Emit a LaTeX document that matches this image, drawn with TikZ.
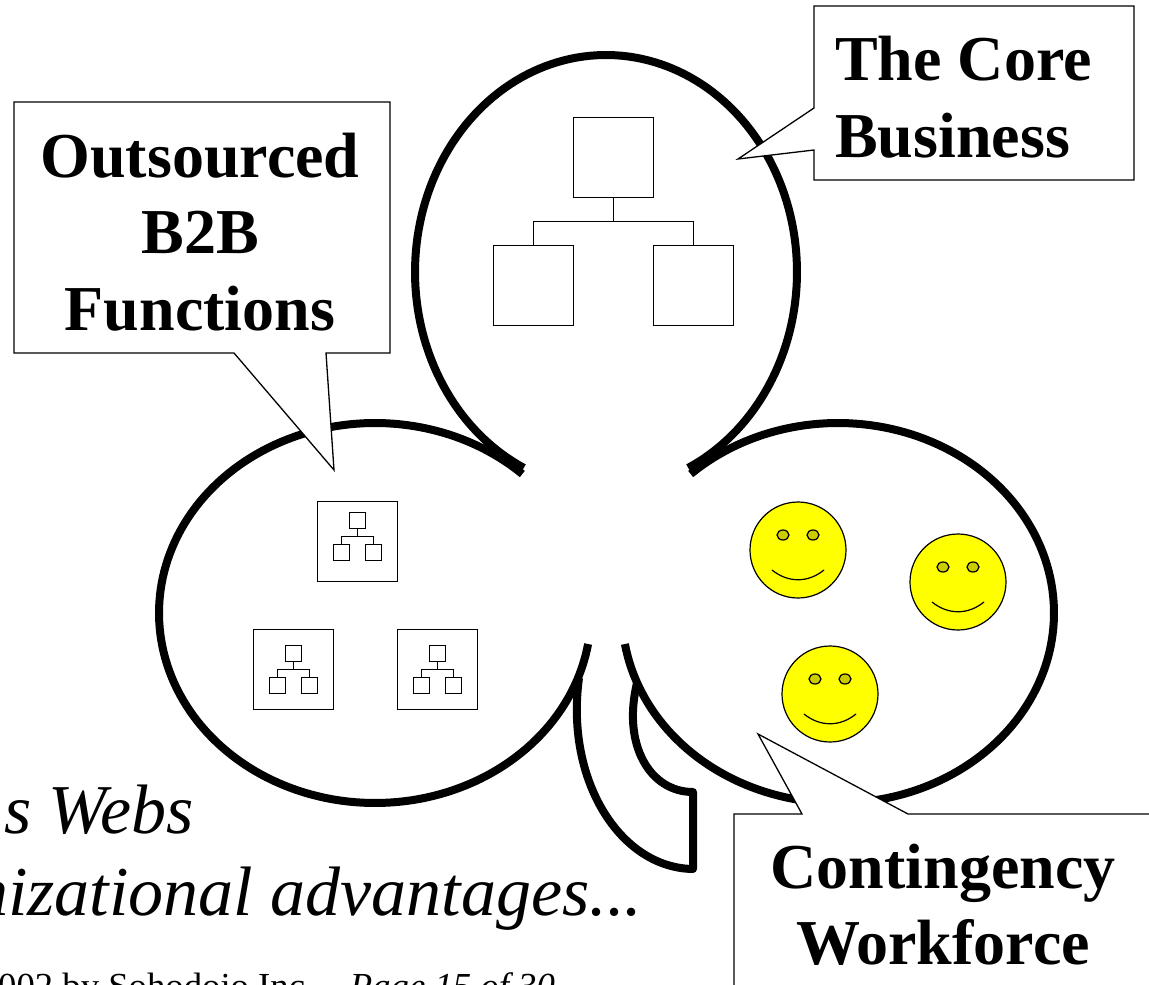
\documentclass[tikz,border=0pt]{standalone}
\usepackage{fontspec}
\setmainfont{Liberation Serif}
\definecolor{smileyellow}{RGB}{255,255,0}
\definecolor{eyeyellow}{RGB}{204,204,0}
\tikzset{
  lobe/.style={line width=8pt,line cap=butt,line join=round},
  callout/.style={draw=black,fill=white,line width=1.3pt,line join=miter},
  calltext/.style={font=\fontsize{64}{76.5}\selectfont\bfseries,align=center,inner sep=0pt,text=black},
  orgbox/.style={draw=black,fill=white,line width=1.1pt,minimum size=80pt,inner sep=0pt,outer sep=0pt},
  minibox/.style={draw=black,fill=white,line width=1.1pt,minimum size=16pt,inner sep=0pt,outer sep=0pt},
  link/.style={draw=black,line width=1.1pt},
  face/.style={draw=black,fill=smileyellow,line width=1.2pt,circle,minimum size=96pt,inner sep=0pt,outer sep=0pt},
  eye/.style={draw=black,fill=eyeyellow,line width=1.2pt},
  slogan/.style={font=\fontsize{70}{70}\selectfont\itshape,inner sep=0pt,anchor=base west},
  foot/.style={font=\fontsize{36.7}{40}\selectfont,inner sep=0pt,anchor=base west},
  mini/.pic={
    \node[minibox] (-t) at (0,0) {};
    \node[minibox] (-l) at (-16,32) {};
    \node[minibox] (-r) at (16,32) {};
    \draw[link] (-t.south) -- (0,16) -| (-l.north);
    \draw[link] (0,16) -| (-r.north);
  },
  smiley/.pic={
    \node[face] (-c) at (0,0) {};
    \draw[eye] (-15,-15) ellipse[x radius=6pt,y radius=5pt];
    \draw[eye] (15,-15) ellipse[x radius=6pt,y radius=5pt];
    \draw[line width=1.2pt] (-26,20) .. controls (-10,33) and (10,33) .. (26,20);
  },
}
\begin{document}
\begin{tikzpicture}[x=1pt,y=-1pt]
\useasboundingbox (0,0) rectangle (1149,985);
\clip (0,0) rectangle (1149,985);
% lobes
\draw[lobe] plot[domain=115.5:424.5,samples=160] ({606+191*cos(\x)},{272+217*sin(\x)});
\draw[lobe] plot[domain=9.4:313,samples=160] ({375+216*cos(\x)},{613+190*sin(\x)});
\draw[lobe] plot[domain=170.6:-133,samples=160] ({838+216*cos(\x)},{613+190*sin(\x)});
% stem
\coordinate (stemA) at (579,678);
\coordinate (stemB) at (693,869);
\coordinate (stemC) at (693,792);
\coordinate (stemD) at (637,683);
\draw[lobe] (stemA) .. controls (565,780) and (620,868) .. (stemB) -- (stemC) .. controls (650,792) and (622,745) .. (stemD);
% large org chart
\node[orgbox] (ceo) at (613.6,157.6) {};
\node[orgbox] (lft) at (533.6,285.6) {};
\node[orgbox] (rgt) at (693.6,285.6) {};
\draw[link] (ceo.south) -- (613.6,221.6) -| (lft.north);
\draw[link] (613.6,221.6) -| (rgt.north);
% small org charts
\node[orgbox] (fa) at (357.6,541.6) {};
\node[orgbox] (fb) at (293.6,669.6) {};
\node[orgbox] (fc) at (437.6,669.6) {};
\pic (ma) at (357.6,520.6) {mini};
\pic (mb) at (293.6,653.6) {mini};
\pic (mc) at (437.6,653.6) {mini};
% smileys
\pic (sa) at (798,550) {smiley};
\pic (sb) at (958,582) {smiley};
\pic (sc) at (830,694) {smiley};
% callouts
\draw[callout] (14,102) -- (390,102) -- (390,353) -- (326,353) -- (334,470) -- (234,353) -- (14,353) -- cycle;
\node[calltext] (outs) at (200,232) {Outsourced\\B2B\\Functions};
\draw[callout] (814,6) -- (1134,6) -- (1134,180) -- (814,180) -- (814,150) -- (738,159) -- (814,108) -- cycle;
\node[calltext,align=left,anchor=west] (core) at (835,97) {The Core\\Business};
\draw[callout] (734,1000) -- (734,814) -- (802,814) -- (758,734) -- (908,814) -- (1160,814);
\node[calltext] (cont) at (943,905) {Contingency\\Workforce};
% text
\node[slogan] (l1) at (4,833) {s Webs};
\node[slogan] (l2) at (-27,915) {nizational advantages...};
\node[foot] (l3) at (-2,998) {002 by Sohodojo Inc. --\hspace{-4pt} \textit{Page 15 of 30}};
\end{tikzpicture}
\end{document}
